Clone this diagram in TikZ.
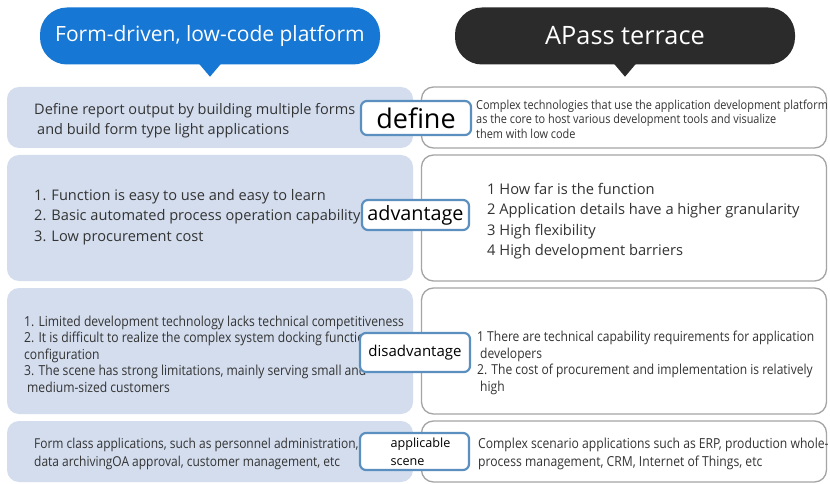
\documentclass[tikz,border=0pt]{standalone}
\usepackage{fontspec}
\setmainfont{Open Sans}
\newfontfamily\cond[FakeStretch=0.88]{Open Sans}
\definecolor{bblue}{HTML}{1677D4}
\definecolor{bblack}{HTML}{2B2B2B}
\definecolor{lfill}{HTML}{D3DDEE}
\definecolor{rdraw}{HTML}{A5A5A5}
\definecolor{labdraw}{HTML}{5B8FBF}
\definecolor{txt}{HTML}{333333}
\tikzset{
  bubble/.style={rounded corners=27pt, minimum width=340pt, minimum height=57pt, text=white, inner sep=0pt},
  lbox/.style={fill=lfill, rounded corners=12pt, minimum width=406pt, inner sep=0pt},
  rbox/.style={fill=white, draw=rdraw, line width=1.3pt, rounded corners=12pt, minimum width=405pt, inner sep=0pt},
  labbox/.style={fill=white, draw=labdraw, line width=2.2pt, rounded corners=6pt, inner sep=0pt, text=black},
  txtnode/.style={anchor=west, align=left, inner sep=0pt, text=txt},
}
\begin{document}
\begin{tikzpicture}[x=1pt,y=-1pt]
\useasboundingbox (0,0) rectangle (830,484);
\fill[white] (0,0) rectangle (830,484);
% bubbles
\node[bubble, fill=bblue, font=\fontsize{21}{24}\selectfont] (b1) at (210,36) {Form-driven, low-code platform};
\fill[bblue] ([xshift=-11pt,yshift=1pt]b1.south) -- ([xshift=11pt,yshift=1pt]b1.south) -- ([yshift=-12pt]b1.south) -- cycle;
\node[bubble, fill=bblack, font=\fontsize{25.3}{28}\selectfont] (b2) at (625,36) {APass terrace};
\fill[bblack] ([xshift=-11pt,yshift=1pt]b2.south) -- ([xshift=11pt,yshift=1pt]b2.south) -- ([yshift=-12pt]b2.south) -- cycle;
% row boxes
\node[lbox, minimum height=61pt] (l1) at (210,117.5) {};
\node[rbox, minimum height=61pt] (r1) at (624,117.5) {};
\node[lbox, minimum height=126pt] (l2) at (210,218) {};
\node[rbox, minimum height=126pt] (r2) at (624,218) {};
\node[lbox, minimum height=126pt] (l3) at (210,351) {};
\node[rbox, minimum height=126pt] (r3) at (624,351) {};
\node[lbox, minimum height=61pt] (l4) at (210,451.5) {};
\node[rbox, minimum height=61pt] (r4) at (624,451.5) {};
% texts
\node[txtnode, font=\fontsize{14.5}{20}\selectfont] (t1l) at (34,121) {Define report output by building multiple forms\\\hspace{3pt}and build form type light applications};
\node[txtnode, font=\cond\fontsize{12.4}{14.5}\selectfont] (t1r) at (476,119) {Complex technologies that use the application development platform\\as the core to host various development tools and visualize\\them with low code};
\node[txtnode, font=\fontsize{14.6}{20.5}\selectfont] (t2l) at (34,217) {1. Function is easy to use and easy to learn\\2. Basic automated process operation capability\\3. Low procurement cost};
\node[txtnode, font=\fontsize{14.7}{20.5}\selectfont] (t2r) at (487,221) {1 How far is the function\\2 Application details have a higher granularity\\3 High flexibility\\4 High development barriers};
\node[txtnode, font=\cond\fontsize{13.8}{16.5}\selectfont] (t3l) at (24,354) {1. Limited development technology lacks technical competitiveness\\2. It is difficult to realize the complex system docking function\\configuration\\3. The scene has strong limitations, mainly serving small and\\\hspace{3pt}medium-sized customers};
\node[txtnode, font=\cond\fontsize{13.7}{16.5}\selectfont] (t3r) at (477,363) {1 There are technical capability requirements for application\\\hspace{3pt}developers\\2. The cost of procurement and implementation is relatively\\\hspace{3pt}high};
\node[txtnode, font=\cond\fontsize{13.6}{18}\selectfont] (t4l) at (34,454) {Form class applications, such as personnel administration,\\data archivingOA approval, customer management, etc};
\node[txtnode, font=\cond\fontsize{13.8}{18}\selectfont] (t4r) at (478,454) {Complex scenario applications such as ERP, production whole-\\process management, CRM, Internet of Things, etc};
% labels
\node[labbox, minimum width=110pt, minimum height=34pt, font=\fontsize{27}{30}\selectfont] (d1) at (416,118) {define};
\node[labbox, minimum width=107pt, minimum height=30pt, font=\fontsize{19.8}{22}\selectfont] (d2) at (415.5,215) {advantage};
\node[labbox, minimum width=110pt, minimum height=39pt, font=\fontsize{15}{17}\selectfont] (d3) at (415,352.5) {disadvantage};
\node[labbox, minimum width=109pt, minimum height=37pt, font=\fontsize{12.6}{18}\selectfont, align=left] (d4) at (414.5,451.5) {\hspace*{12pt}applicable\\\hspace*{12pt}scene};
\end{tikzpicture}
\end{document}
